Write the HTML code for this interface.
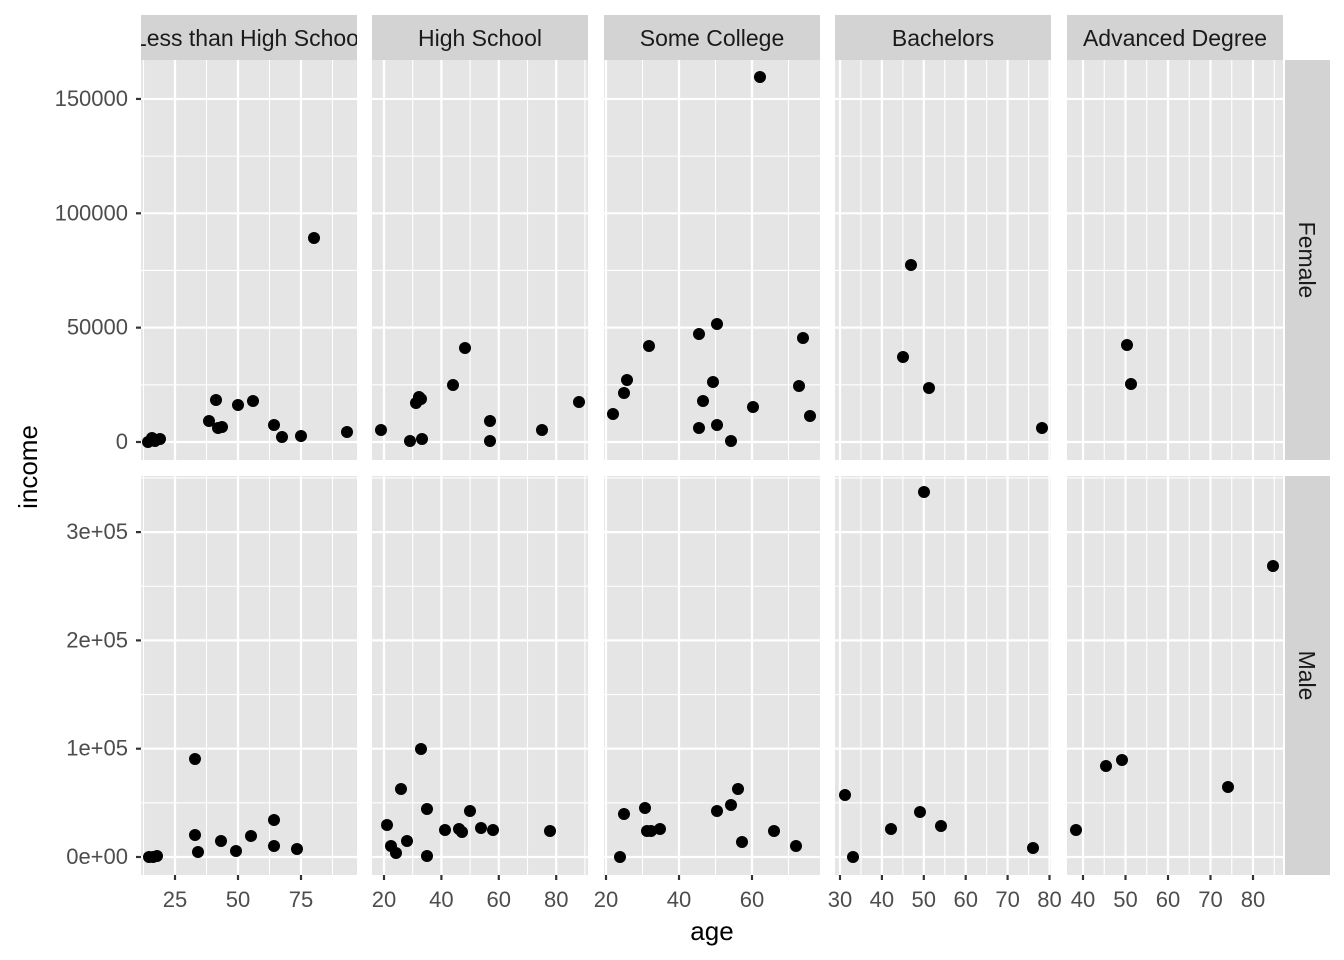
<!DOCTYPE html>
<html><head><meta charset="utf-8"><style>body{margin:0;background:#fff}svg{display:block}text{font-family:"Liberation Sans",Arial,sans-serif}</style></head>
<body>
<svg id="s" width="1344" height="960" xmlns="http://www.w3.org/2000/svg"></svg>
<script>
const s=document.getElementById('s');let h='';
const px=[141,372,604,835,1067],W=216;
const rows=[[60,460],[476,875]];
const xs=[
 [25,175,2.52,[25,50,75],[12.5,37.5,62.5,87.5]],
 [20,384,2.87,[20,40,60,80],[30,50,70,90]],
 [20,606,3.65,[20,40,60],[30,50,70]],
 [30,840,4.19,[30,40,50,60,70,80],[35,45,55,65,75]],
 [40,1083,4.25,[40,50,60,70,80],[45,55,65,75,85]]];
const ys=[[442,2.287/1000,[0,50000,100000,150000],[25000,75000,125000],['0','50000','100000','150000']],
 [857,1.083/1000,[0,100000,200000,300000],[50000,150000,250000,350000],['0e+00','1e+05','2e+05','3e+05']]];
h+='<defs><clipPath id="c0"><rect x="141" y="15" width="216" height="45"/></clipPath></defs>';
const labs=['Less than High School','High School','Some College','Bachelors','Advanced Degree'];
for(let c=0;c<5;c++){
 h+=`<rect x="${px[c]}" y="15" width="${W}" height="45" fill="#d3d3d3"/>`;
 h+=`<text x="${px[c]+W/2}" y="46" font-size="23" fill="#1a1a1a" text-anchor="middle" ${c==0?'clip-path="url(#c0)"':''}>${labs[c]}</text>`;
 const X=xs[c],fx=v=>X[1]+(v-X[0])*X[2];
 for(let r=0;r<2;r++){
  const [t,b]=rows[r],Y=ys[r],fy=v=>Y[0]-v*Y[1];
  h+=`<svg x="${px[c]}" y="${t}" width="${W}" height="${b-t}" overflow="hidden"><g transform="translate(${-px[c]},${-t})">`;
  h+=`<rect x="${px[c]}" y="${t}" width="${W}" height="${b-t}" fill="#e5e5e5"/>`;
  Y[3].forEach(v=>h+=`<line x1="${px[c]}" x2="${px[c]+W}" y1="${fy(v)}" y2="${fy(v)}" stroke="#fff" stroke-width="1.1"/>`);
  X[4].forEach(v=>h+=`<line y1="${t}" y2="${b}" x1="${fx(v)}" x2="${fx(v)}" stroke="#fff" stroke-width="1.1"/>`);
  Y[2].forEach(v=>h+=`<line x1="${px[c]}" x2="${px[c]+W}" y1="${fy(v)}" y2="${fy(v)}" stroke="#fff" stroke-width="2.2"/>`);
  X[3].forEach(v=>h+=`<line y1="${t}" y2="${b}" x1="${fx(v)}" x2="${fx(v)}" stroke="#fff" stroke-width="2.2"/>`);
  h+='</g></svg>';
 }
 X[3].forEach(v=>{h+=`<line y1="875" y2="880" x1="${fx(v)}" x2="${fx(v)}" stroke="#333" stroke-width="2.2"/><text x="${fx(v)}" y="907" font-size="22" fill="#4d4d4d" text-anchor="middle">${v}</text>`});
}
for(let r=0;r<2;r++){const [t,b]=rows[r],Y=ys[r];
 h+=`<rect x="1285" y="${t}" width="45" height="${b-t}" fill="#d3d3d3"/>`;
 const cy=(t+b)/2;h+=`<text transform="translate(1299,${cy}) rotate(90)" font-size="23" fill="#1a1a1a" text-anchor="middle">${r?'Male':'Female'}</text>`;
 Y[2].forEach((v,i)=>{const y=Y[0]-v*Y[1];h+=`<line x1="136" x2="141" y1="${y}" y2="${y}" stroke="#333" stroke-width="2.2"/><text x="128" y="${y+7}" font-size="22" fill="#4d4d4d" text-anchor="end">${Y[4][i]}</text>`});
}
const pts=[[148,442],[152,438],[155,441],[160,439],[209,421],[216,400],[218,428],[222,427],[238,405],[253,401],[274,425],[282,437],[301,436],[314,238],[347,432],
[381,430],[410,441],[416,403],[419,397],[421,399],[422,439],[453,385],[465,348],[490,421],[490,441],[542,430],[579,402],
[613,414],[624,393],[627,380],[649,346],[699,334],[699,428],[703,401],[713,382],[717,324],[717,425],[731,441],[753,407],[760,77],[799,386],[803,338],[810,416],
[903,357],[911,265],[929,388],[1042,428],[1127,345],[1131,384],
[149,857],[153,857],[157,856],[195,759],[195,835],[198,852],[221,841],[236,851],[251,836],[274,820],[274,846],[297,849],
[387,825],[391,846],[396,853],[401,789],[407,841],[421,749],[427,809],[427,856],[445,830],[459,829],[462,832],[470,811],[481,828],[493,830],[550,831],
[620,857],[624,814],[645,808],[647,831],[651,831],[660,829],[717,811],[731,805],[738,789],[742,842],[774,831],[796,846],
[845,795],[853,857],[891,829],[920,812],[924,492],[941,826],[1033,848],
[1076,830],[1106,766],[1122,760],[1228,787],[1273,566]];
pts.forEach(p=>h+=`<circle cx="${p[0]}" cy="${p[1]}" r="6" fill="#000"/>`);
h+='<text x="712" y="940" font-size="26" fill="#000" text-anchor="middle">age</text>';
h+='<text transform="translate(37,467) rotate(-90)" font-size="26" fill="#000" text-anchor="middle">income</text>';
s.innerHTML=h;
</script>
</body></html>
